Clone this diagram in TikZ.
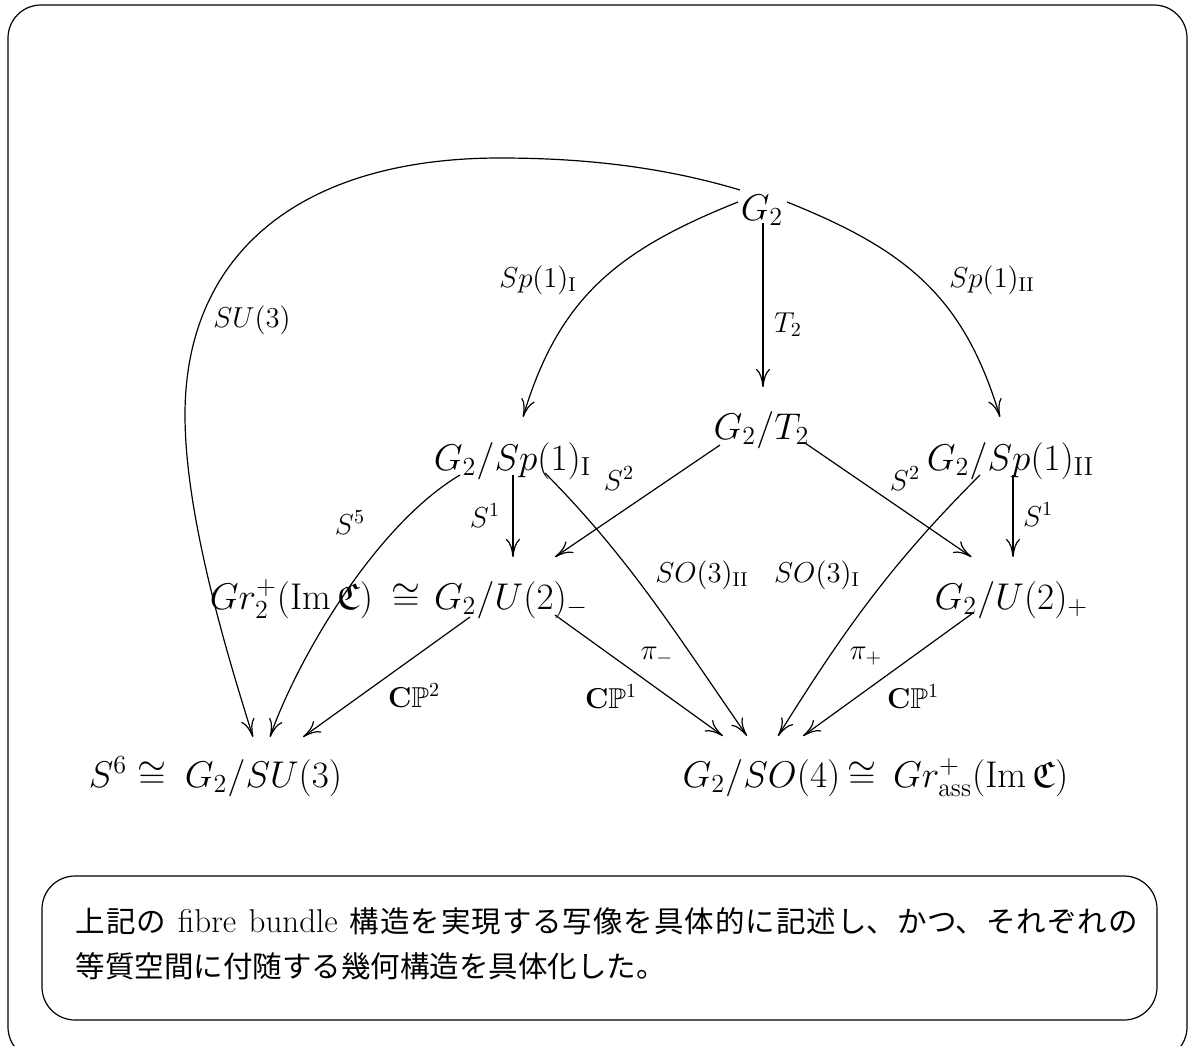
\RequirePackage{fix-cm}
\documentclass[tikz,border=0pt]{standalone}
\usepackage{amsmath,amssymb}
\usepackage[no-math]{fontspec}
\newfontfamily\cjk{Noto Sans CJK JP}
\usetikzlibrary{arrows.meta,calc}
\begin{document}
\begin{tikzpicture}[x=0.5pt,y=-0.5pt,line width=0.6pt,
  big/.style={inner sep=0pt,anchor=base,font=\fontsize{18.6}{22}\selectfont},
  lab/.style={inner sep=0pt,anchor=base,font=\Large},
  arr/.style={-{To[length=9pt,width=7pt]},line width=0.6pt},
  frame/.style={rounded corners=16.5pt,line width=0.6pt}]
\useasboundingbox (0,0) rectangle (1189,1045);
\clip (0,0) rectangle (1189,1045);
% frames
\draw[frame] (8,5) rectangle (1187,1060);
\draw[frame] (42,876) rectangle (1157,1020);
% main nodes
\node[big] (G2) at (762,220) {$G_2$};
\node[big] (T2n) at (761.5,439) {$G_2/T_2$};
\node[big] (SpI) at (512.5,470) {$G_2/Sp(1)_{\mathrm{I}}$};
\node[big] (SpII) at (1010.5,470) {$G_2/Sp(1)_{\mathrm{II}}$};
\node[big] (Um) at (511,609) {$G_2/U(2)_-$};
\node[big,anchor=base east] (Gr2) at (421,609) {$Gr_2^+(\mathrm{Im}\,\mathfrak{C})\hspace{4pt}\cong$};
\node[big] (Up) at (1011.5,609) {$G_2/U(2)_+$};
\node[big] (S6) at (263.5,787) {$G_2/SU(3)$};
\node[big,anchor=base east] (S6l) at (167,787) {$S^6\cong$};
\node[big] (SO4) at (761.5,787) {$G_2/SO(4)$};
\node[big,anchor=base west] (GrA) at (847,787) {$\cong\,Gr^+_{\mathrm{ass}}(\mathrm{Im}\,\mathfrak{C})$};
% connectors
\draw[arr] ($(G2.base)+(-22,-30)$) .. controls (660,166) and (580,158) .. (500,158)
  .. controls (301,158) and (185,253) .. (185,415)
  .. controls (185,515) and (226,651) .. ($(S6.base)+(-10.5,-50)$);
\draw[arr] ($(G2.base)+(-24,-18)$) .. controls (618,250) and (559,297) .. ($(SpI.base)+(10.5,-53)$);
\draw[arr] ($(G2.base)+(25,-18)$) .. controls (907,250) and (964,297) .. ($(SpII.base)+(-10.5,-53)$);
\draw[arr] ($(G2.base)+(1,3)$) -- ($(T2n.base)+(1.5,-52)$);
\draw[arr] ($(SpI.base)+(0.5,5)$) -- ($(Um.base)+(2,-52)$);
\draw[arr] ($(SpII.base)+(2.5,5)$) -- ($(Up.base)+(1.5,-52)$);
\draw[arr] ($(T2n.base)+(-41.5,6)$) -- ($(Um.base)+(44,-52)$);
\draw[arr] ($(T2n.base)+(43.5,4)$) -- ($(Up.base)+(-40,-52)$);
\draw[arr] ($(SpI.base)+(32.5,3)$) .. controls (629,558) and (673,629) .. ($(SO4.base)+(-14.5,-51)$);
\draw[arr] ($(SpII.base)+(-30.5,5)$) .. controls (895,560) and (847,625) .. ($(SO4.base)+(16.5,-51)$);
\draw[arr] ($(Um.base)+(44,6)$) -- ($(SO4.base)+(-38.5,-51)$);
\draw[arr] ($(Up.base)+(-38.5,4)$) -- ($(SO4.base)+(41.5,-51)$);
\draw[arr] ($(Um.base)+(-41,8)$) -- ($(S6.base)+(39.5,-50)$);
\draw[arr] ($(SpI.base)+(-52.5,5)$) .. controls (374,526) and (296,662) .. ($(S6.base)+(6.5,-50)$);
% labels
\node[lab] (lSU) at (252,327) {$SU(3)$};
\node[lab] (lSpI) at (538,287) {$Sp(1)_{\mathrm{I}}$};
\node[lab] (lSpII) at (992,287) {$Sp(1)_{\mathrm{II}}$};
\node[lab] (lT) at (788,332) {$T_2$};
\node[lab] (lS5) at (350,534) {$S^5$};
\node[lab] (lS1a) at (485,527) {$S^1$};
\node[lab] (lS2a) at (619,490) {$S^2$};
\node[lab] (lS2b) at (905,490) {$S^2$};
\node[lab] (lS1b) at (1038,526) {$S^1$};
\node[lab] (lSO2) at (702,582) {$SO(3)_{\mathrm{II}}$};
\node[lab] (lSO1) at (817,582) {$SO(3)_{\mathrm{I}}$};
\node[lab] (lpm) at (657,659) {$\pi_-$};
\node[lab] (lpp) at (866,659) {$\pi_+$};
\node[lab] (lCP1a) at (611,708) {$\mathbf{C}\mathbb{P}^1$};
\node[lab] (lCP1b) at (913,708) {$\mathbf{C}\mathbb{P}^1$};
\node[lab] (lCP2) at (414,707) {$\mathbf{C}\mathbb{P}^2$};
% text
\node[anchor=base west,inner sep=0pt,text width=531pt,align=justify,
      font=\fontsize{14.75}{22.5}\selectfont] (txt) at (75,932)
  {\XeTeXlinebreaklocale "ja"\XeTeXlinebreakskip=0pt plus 1pt
   {\cjk 上記の} {\fontsize{16.5}{22.5}\selectfont fibre bundle} {\cjk 構造を実現する写像を具体的に記述し、かつ、それぞれの}\linebreak
   {\cjk 等質空間に付随する幾何構造を具体化した。}};
\end{tikzpicture}
\end{document}
